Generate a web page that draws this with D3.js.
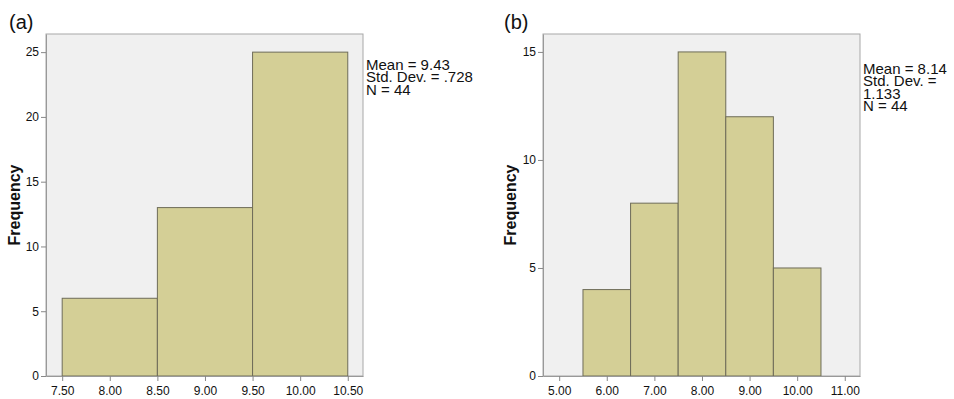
<!DOCTYPE html>
<html>
<head>
<meta charset="utf-8">
<script src="https://cdn.jsdelivr.net/npm/d3@7"></script>
<style>
  body { margin: 0; background: #fff; }
  text { font-family: "Liberation Sans", Arial, sans-serif; fill: #111; }
  .tick text { font-size: 12px; }
</style>
</head>
<body>
<div id="chart"></div>
<script>
// histogram (a)
var edgesA = [7.5, 8.5, 9.5, 10.5];
var countsA = [6, 13, 25];
var xTicksA = [7.5, 8, 8.5, 9, 9.5, 10, 10.5];
var yTicksA = [0, 5, 10, 15, 20, 25];
var statsA = ["Mean = 9.43", "Std. Dev. = .728", "N = 44"];

// histogram (b)
var edgesB = [5.5, 6.5, 7.5, 8.5, 9.5, 10.5];
var countsB = [4, 8, 15, 12, 5];
var xTicksB = [5, 6, 7, 8, 9, 10, 11];
var yTicksB = [0, 5, 10, 15];
var statsB = ["Mean = 8.14", "Std. Dev. =", "1.133", "N = 44"];

var svg = d3.select("#chart")
  .append("svg")
  .attr("width", 954)
  .attr("height", 399);

function drawPanel(opt) {
  var g = svg.append("g");

  var x = d3.scaleLinear().domain(opt.xDomain).range([opt.left, opt.right]);
  var y = d3.scaleLinear().domain(opt.yDomain).range([opt.bottom, opt.top]);

  // plot background + frame
  g.append("rect")
    .attr("x", opt.left)
    .attr("y", opt.top)
    .attr("width", opt.right - opt.left)
    .attr("height", opt.bottom - opt.top)
    .attr("fill", "#f0f0f0")
    .attr("stroke", "#a8a8a8")
    .attr("stroke-width", 1);

  var bins = opt.counts.map(function(c, i) {
    return { x0: opt.edges[i], x1: opt.edges[i + 1], n: c };
  });

  g.selectAll(".bar")
    .data(bins)
    .enter()
    .append("rect")
    .attr("class", "bar")
    .attr("x", d => x(d.x0))
    .attr("y", d => y(d.n))
    .attr("width", d => x(d.x1) - x(d.x0))
    .attr("height", d => y(0) - y(d.n))
    .attr("fill", "#d4cf96")
    .attr("stroke", "#6e6c58")
    .attr("stroke-width", 1);

  var leftAxis = d3.axisLeft(y).tickValues(opt.yTicks).tickSize(5).tickSizeOuter(0).tickPadding(2);
  var bottomAxis = d3.axisBottom(x).tickValues(opt.xTicks).tickSize(5).tickSizeOuter(0)
    .tickPadding(5).tickFormat(d3.format(".2f"));

  var ya = g.append("g")
    .attr("transform", `translate(${opt.left},0)`)
    .call(leftAxis);
  var xa = g.append("g")
    .attr("transform", `translate(0,${opt.bottom})`)
    .call(bottomAxis);
  [ya, xa].forEach(function(a) {
    a.select(".domain").attr("stroke", "#999");
    a.selectAll(".tick line").attr("stroke", "#888");
    a.selectAll(".tick text").attr("fill", "#222");
  });

  // axis title
  g.append("text")
    .attr("transform", `translate(${opt.labelX},${(opt.top + opt.bottom) / 2}) rotate(-90)`)
    .attr("text-anchor", "middle")
    .attr("dy", "0.35em")
    .attr("font-size", "16px")
    .attr("font-weight", "bold")
    .text("Frequency");

  // panel letter
  g.append("text")
    .attr("x", opt.letterX)
    .attr("y", 29)
    .attr("font-size", "20px")
    .text(opt.letter);

  // stats box
  g.selectAll(".stat")
    .data(opt.stats)
    .enter()
    .append("text")
    .attr("class", "stat")
    .attr("x", opt.right + 3)
    .attr("y", (d, i) => opt.statY + i * 12.4)
    .attr("font-size", "15px")
    .text(d => d);
}

drawPanel({
  edges: edgesA, counts: countsA, xTicks: xTicksA, yTicks: yTicksA, stats: statsA,
  xDomain: [7.33, 10.66], yDomain: [0, 26.4],
  left: 46, right: 363, top: 34, bottom: 376,
  labelX: 14, letterX: 9, letter: "(a)", statY: 70
});

drawPanel({
  edges: edgesB, counts: countsB, xTicks: xTicksB, yTicks: yTicksB, stats: statsB,
  xDomain: [4.66, 11.32], yDomain: [0, 15.83],
  left: 543, right: 860, top: 34, bottom: 376,
  labelX: 510, letterX: 504, letter: "(b)", statY: 74
});
</script>
</body>
</html>
